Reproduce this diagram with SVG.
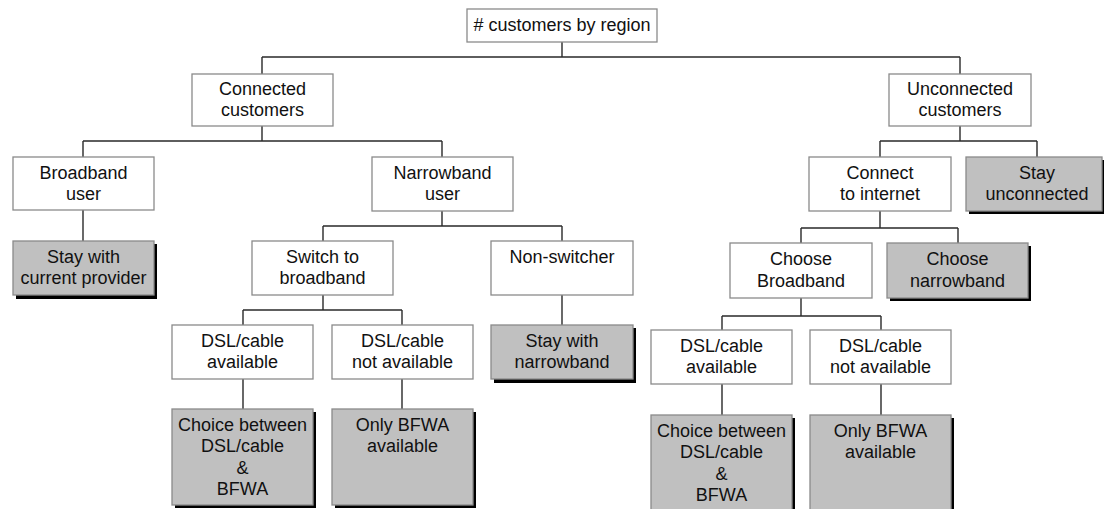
<svg xmlns="http://www.w3.org/2000/svg" width="1104" height="509" viewBox="0 0 1104 509">
  <style>
    .box { fill: #ffffff; stroke: #8a8a8a; stroke-width: 1.3; }
    .end { fill: #c0c0c0; stroke: #8a8a8a; stroke-width: 1.3; }
    .shadow { fill: #000000; }
    .wire { fill: none; stroke: #2a2a2a; stroke-width: 1.4; }
    text { font-family: "Liberation Sans", Arial, sans-serif; font-size: 18px; fill: #111111; text-anchor: middle; }
  </style>
  <rect width="1104" height="509" fill="#ffffff"/>

  <!-- connectors -->
  <g id="connectors" class="wire">
    <path d="M562 42V57M262 57H960M262 57V74M960 57V74"/>
    <path d="M262 126V141M83 141H442M83 141V157M442 141V157"/>
    <path d="M83 210V241"/>
    <path d="M442 211V226M323 226H562M323 226V241M562 226V241"/>
    <path d="M323 295V310M243 310H402M243 310V325M402 310V325"/>
    <path d="M243 379V409M402 379V409"/>
    <path d="M562 295V325"/>
    <path d="M960 126V141M880 141H1037M880 141V157M1037 141V157"/>
    <path d="M880 211V228M801 228H958M801 228V243M958 228V243"/>
    <path d="M801 298V316M722 316H881M722 316V330M881 316V330"/>
    <path d="M722 384V415M881 384V415"/>
  </g>

  <g id="root">
    <rect class="box" x="467" y="9" width="190" height="33"/>
    <text x="562" y="31"># customers by region</text>
  </g>

  <g id="connected">
    <rect class="box" x="192" y="74" width="141" height="52"/>
    <text x="262.5" y="94.5">Connected</text>
    <text x="262.5" y="116">customers</text>
  </g>

  <g id="unconnected">
    <rect class="box" x="889" y="74" width="142" height="52"/>
    <text x="960" y="94.5">Unconnected</text>
    <text x="960" y="116">customers</text>
  </g>

  <g id="broadband-user">
    <rect class="box" x="13" y="157" width="141" height="53"/>
    <text x="83.5" y="178.5">Broadband</text>
    <text x="83.5" y="200">user</text>
  </g>

  <g id="narrowband-user">
    <rect class="box" x="372" y="157" width="141" height="54"/>
    <text x="442.5" y="178.5">Narrowband</text>
    <text x="442.5" y="200">user</text>
  </g>

  <g id="stay-current">
    <rect class="shadow" x="16" y="244" width="141" height="55"/>
    <rect class="end" x="13" y="241" width="141" height="54"/>
    <text x="83.5" y="262.5">Stay with</text>
    <text x="83.5" y="284">current provider</text>
  </g>

  <g id="switch-broadband">
    <rect class="box" x="252" y="241" width="141" height="54"/>
    <text x="322.5" y="262.5">Switch to</text>
    <text x="322.5" y="284">broadband</text>
  </g>

  <g id="non-switcher">
    <rect class="box" x="491" y="241" width="142" height="54"/>
    <text x="562" y="262.5">Non-switcher</text>
  </g>

  <g id="left-dsl-available">
    <rect class="box" x="172" y="325" width="141" height="54"/>
    <text x="242.5" y="346.5">DSL/cable</text>
    <text x="242.5" y="368">available</text>
  </g>

  <g id="left-dsl-not-available">
    <rect class="box" x="332" y="325" width="141" height="54"/>
    <text x="402.5" y="346.5">DSL/cable</text>
    <text x="402.5" y="368">not available</text>
  </g>

  <g id="stay-narrowband">
    <rect class="shadow" x="494" y="328" width="142" height="55"/>
    <rect class="end" x="491" y="325" width="142" height="54"/>
    <text x="562" y="346.5">Stay with</text>
    <text x="562" y="368">narrowband</text>
  </g>

  <g id="left-choice">
    <rect class="shadow" x="175" y="412" width="141" height="96"/>
    <rect class="end" x="172" y="409" width="141" height="96"/>
    <text x="242.5" y="430.5">Choice between</text>
    <text x="242.5" y="452">DSL/cable</text>
    <text x="242.5" y="473.5">&amp;</text>
    <text x="242.5" y="495">BFWA</text>
  </g>

  <g id="left-only-bfwa">
    <rect class="shadow" x="335" y="412" width="141" height="96"/>
    <rect class="end" x="332" y="409" width="141" height="96"/>
    <text x="402.5" y="430.5">Only BFWA</text>
    <text x="402.5" y="452">available</text>
  </g>

  <g id="connect-internet">
    <rect class="box" x="809" y="157" width="142" height="54"/>
    <text x="880" y="178.5">Connect</text>
    <text x="880" y="200">to internet</text>
  </g>

  <g id="stay-unconnected">
    <rect class="shadow" x="969" y="160" width="142" height="54"/>
    <rect class="end" x="966" y="157" width="136" height="54"/>
    <text x="1037" y="178.5">Stay</text>
    <text x="1037" y="200">unconnected</text>
  </g>

  <g id="choose-broadband">
    <rect class="box" x="730" y="243" width="142" height="55"/>
    <text x="801" y="265">Choose</text>
    <text x="801" y="286.5">Broadband</text>
  </g>

  <g id="choose-narrowband">
    <rect class="shadow" x="890" y="246" width="141" height="55"/>
    <rect class="end" x="887" y="243" width="141" height="55"/>
    <text x="957.5" y="265">Choose</text>
    <text x="957.5" y="286.5">narrowband</text>
  </g>

  <g id="right-dsl-available">
    <rect class="box" x="651" y="330" width="141" height="54"/>
    <text x="721.5" y="351.5">DSL/cable</text>
    <text x="721.5" y="373">available</text>
  </g>

  <g id="right-dsl-not-available">
    <rect class="box" x="810" y="330" width="141" height="54"/>
    <text x="880.5" y="351.5">DSL/cable</text>
    <text x="880.5" y="373">not available</text>
  </g>

  <g id="right-choice">
    <rect class="shadow" x="654" y="418" width="141" height="100"/>
    <rect class="end" x="651" y="415" width="141" height="100"/>
    <text x="721.5" y="436.5">Choice between</text>
    <text x="721.5" y="458">DSL/cable</text>
    <text x="721.5" y="479.5">&amp;</text>
    <text x="721.5" y="501">BFWA</text>
  </g>

  <g id="right-only-bfwa">
    <rect class="shadow" x="813" y="418" width="141" height="100"/>
    <rect class="end" x="810" y="415" width="141" height="100"/>
    <text x="880.5" y="436.5">Only BFWA</text>
    <text x="880.5" y="458">available</text>
  </g>
</svg>
